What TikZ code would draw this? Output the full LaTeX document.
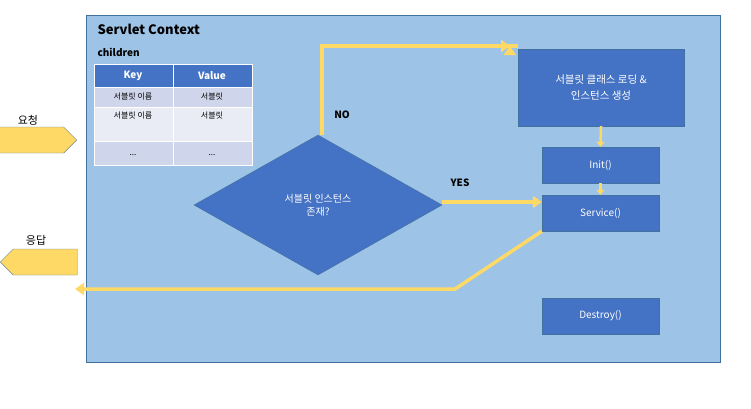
\documentclass[tikz,border=0pt]{standalone}
\usepackage{fontspec}
\setmainfont{Noto Sans CJK KR}
\usetikzlibrary{shapes.geometric,shapes.arrows,arrows.meta}
\definecolor{ctx}{HTML}{9DC3E6}
\definecolor{bd}{HTML}{41719C}
\definecolor{bx}{HTML}{4472C4}
\definecolor{yl}{HTML}{FFD966}
\definecolor{r1}{HTML}{CFD5EA}
\definecolor{r2}{HTML}{E9EBF5}
\begin{document}
\begin{tikzpicture}[x=1pt,y=-1pt,
  boxs/.style={draw=bd,fill=bx,text=white,font=\fontsize{10}{12}\selectfont,inner sep=0},
  flow/.style={draw=yl,line width=3.5pt,-{Triangle[length=9pt,width=12pt]}},
  lbl/.style={font=\bfseries\fontsize{10}{12}\selectfont}]
\useasboundingbox (0,0) rectangle (751,408);
\node[draw=bd,fill=ctx,minimum width=634pt,minimum height=347pt,anchor=north west,inner sep=0] (ctx) at (86,15) {};
\node[anchor=west,font=\bfseries\fontsize{13}{15}\selectfont] (title) at (94,29) {Servlet Context};
\node[anchor=west,lbl] (ch) at (94,52) {children};
% table
\begin{scope}[draw=white,line width=1pt]
\fill[bx] (94,64) rectangle (252,87);
\fill[r1] (94,87) rectangle (252,107);
\fill[r2] (94,107) rectangle (252,141);
\fill[r1] (94,141) rectangle (252,165);
\draw (94,64) rectangle (252,165);
\draw (173,64) -- (173,165);
\draw (94,87) -- (252,87) (94,107) -- (252,107) (94,141) -- (252,141);
\end{scope}
\node[text=white,lbl] (k) at (133,76) {Key};
\node[text=white,lbl] (v) at (212,76) {Value};
\tikzset{cell/.style={font=\fontsize{8}{10}\selectfont}}
\node[cell] (a1) at (133,97) {서블릿 이름};
\node[cell] (b1) at (212,97) {서블릿};
\node[cell] (a2) at (133,116) {서블릿 이름};
\node[cell] (b2) at (212,116) {서블릿};
\node[cell] (a3) at (133,155) {...};
\node[cell] (b3) at (212,155) {...};
% diamond
\node[diamond,draw=bd,fill=bx,text=white,minimum width=248pt,minimum height=140pt,inner sep=0,aspect=1.77,align=center,font=\fontsize{10}{13}\selectfont] (dia) at (318,205) {서블릿 인스턴스\\존재?};
% boxes
\node[boxs,minimum width=166pt,minimum height=77pt,align=center,font=\fontsize{10.5}{16}\selectfont] (load) at (601,87.5) {서블릿 클래스 로딩 \&\\인스턴스 생성};
\node[boxs,minimum width=117pt,minimum height=36pt] (init) at (600.5,165) {Init()};
\node[boxs,minimum width=117pt,minimum height=36pt] (serv) at (600.5,213) {Service()};
\node[boxs,minimum width=117pt,minimum height=36pt] (dest) at (600.5,316) {Destroy()};
% flows
\coordinate (c1) at (322,46);
\draw[flow] (dia.north -| c1) -- (c1) -- (load.west |- c1) ++(-8,0);
\draw[flow,shorten >=0pt] (dia.north -| c1) -- (c1) -- (510,46);
\node[lbl] (no) at (342,115) {NO};
\draw[flow] (dia.east |- 0,202) -- (serv.west |- 0,202);
\node[lbl] (yes) at (460,183) {YES};
\draw[flow,-{Triangle[length=5pt,width=8pt]},line width=2.5pt] (load.south) -- (init.north);
\draw[flow,-{Triangle[length=5pt,width=8pt]},line width=2.5pt] (init.south) -- (serv.north);
\coordinate (r1) at (455,289);
\draw[flow] (serv.south west) -- (r1) -- (75,289);
% outside arrows
\node[single arrow,draw=bd!80!yl,fill=yl,minimum width=26pt,single arrow head extend=0pt,minimum height=77pt,inner sep=0,anchor=tip] (req) at (77,140) {};
\node[single arrow,shape border rotate=180,draw=bd!80!yl,fill=yl,minimum width=26pt,single arrow head extend=0pt,minimum height=77pt,inner sep=0,anchor=tip] (res) at (0,262) {};
\node[font=\fontsize{11}{13}\selectfont] (reqt) at (28,120) {요청};
\node[font=\fontsize{11}{13}\selectfont] (rest) at (36,240) {응답};
\end{tikzpicture}
\end{document}
